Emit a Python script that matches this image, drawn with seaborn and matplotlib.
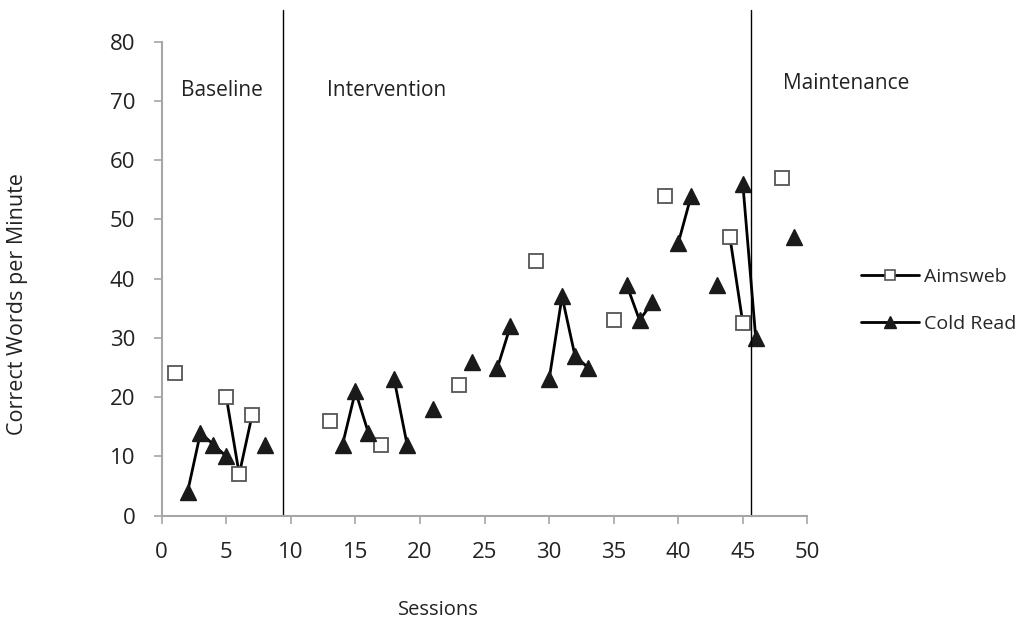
import pandas as pd
import seaborn as sns
from matplotlib import pyplot as plt
from matplotlib.lines import Line2D

# Aimsweb probes (open squares)
aims_sessions = [1, 5, 6, 7, 13, 17, 23, 29, 35, 39, 44, 45, 48]
aims_values = [24, 20, 7, 17, 16, 12, 22, 43, 33, 54, 47, 32.5, 57]

# Cold read probes (filled triangles)
cold_sessions = [2, 3, 4, 5, 8, 14, 15, 16, 18, 19, 21, 24, 26, 27, 30, 31, 32, 33,
                 36, 37, 38, 40, 41, 43, 45, 46, 49]
cold_values = [4, 14, 12, 10, 12, 12, 21, 14, 23, 12, 18, 26, 25, 32, 23, 37, 27, 25,
               39, 33, 36, 46, 54, 39, 56, 30, 47]

phase_names = ["Baseline", "Intervention", "Maintenance"]
phase_label_x = [4.7, 17.4, 53.0]
phase_label_y = [71.7, 71.7, 73.0]
phase_changes = [9.4, 45.6]

x_ticks = list(range(0, 51, 5))
y_ticks = list(range(0, 81, 10))


def make_frame(sessions, values):
    df = pd.DataFrame({"session": sessions, "value": values})
    # consecutive sessions are joined by a line, gaps break it
    df["run"] = (df["session"].diff() != 1).cumsum()
    return df


aims = make_frame(aims_sessions, aims_values)
cold = make_frame(cold_sessions, cold_values)

sns.set_style("ticks")
plt.rcParams["font.family"] = ["Open Sans", "DejaVu Sans"]

fig = plt.figure(figsize=(10.25, 6.19), dpi=100)
ax = fig.add_axes([0.1578, 0.1669, 0.6299, 0.7658])

sns.lineplot(data=aims, x="session", y="value", units="run", estimator=None,
             color="black", lw=2, marker="s", markersize=10.5,
             markerfacecolor="white", markeredgecolor="#555555",
             markeredgewidth=1.3, legend=False, ax=ax)
sns.lineplot(data=cold, x="session", y="value", units="run", estimator=None,
             color="black", lw=2, marker="^", markersize=12,
             markerfacecolor="#1a1a1a", markeredgecolor="#1a1a1a",
             markeredgewidth=1, legend=False, ax=ax)

for xc in phase_changes:
    ax.axvline(xc, ymin=0, ymax=1.067, color="black", lw=1, clip_on=False)

for name, tx, ty in zip(phase_names, phase_label_x, phase_label_y):
    ax.text(tx, ty, name, ha="center", va="center", fontsize=15,
            color="#222222", clip_on=False)

ax.set_xlim(0, 50)
ax.set_ylim(0, 80)
ax.set_xticks(x_ticks)
ax.set_yticks(y_ticks)
ax.tick_params(axis="both", colors="#a6a6a6", length=6, width=1.2,
               labelsize=16, labelcolor="#222222")
ax.tick_params(axis="x", pad=13)
ax.tick_params(axis="y", pad=13)
sns.despine(ax=ax)
for side in ["left", "bottom"]:
    ax.spines[side].set_color("#a6a6a6")
    ax.spines[side].set_linewidth(1.5)

ax.set_xlabel("Sessions", fontsize=14.5, color="#222222", va="center")
ax.set_ylabel("Correct Words per Minute", fontsize=15.5, color="#222222", va="center")
ax.xaxis.set_label_coords(0.428, -0.198)
ax.yaxis.set_label_coords(-0.223, 0.447)

handles = [
    Line2D([], [], color="black", lw=2, marker="s", markersize=7.5,
           markerfacecolor="white", markeredgecolor="#555555", markeredgewidth=1.2),
    Line2D([], [], color="black", lw=2, marker="^", markersize=8,
           markerfacecolor="#1a1a1a", markeredgecolor="#1a1a1a"),
]
fig.legend(handles, ["Aimsweb", "Cold Read"], loc="center left",
           bbox_to_anchor=(0.823, 0.515), frameon=False, fontsize=14,
           handlelength=3.0, handletextpad=0.25, labelspacing=1.5)

fig.savefig("out.png", dpi=100)
